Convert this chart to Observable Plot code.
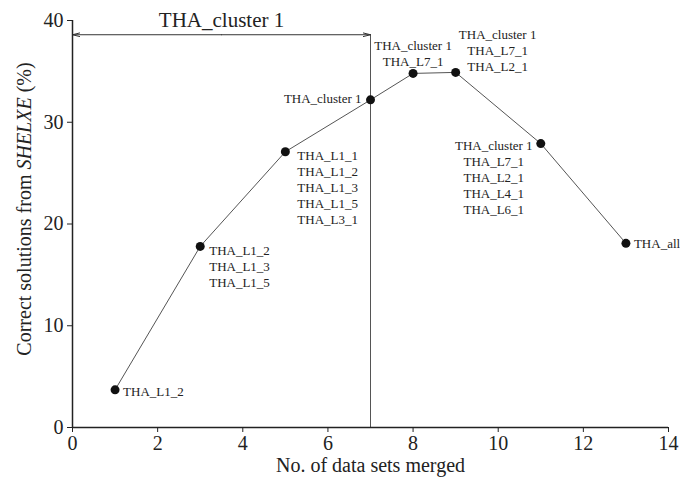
<!DOCTYPE html>
<html>
<head>
<meta charset="utf-8">
<script src="https://cdn.jsdelivr.net/npm/d3@7"></script>
<script src="https://cdn.jsdelivr.net/npm/@observablehq/plot@0.6"></script>
<style>
  body { margin: 0; background: #fff; }
</style>
</head>
<body>
<div id="chart"></div>
<script>
// Data
const nMerged = [1, 3, 5, 7, 8, 9, 11, 13];
const correctPct = [3.7, 17.8, 27.1, 32.2, 34.8, 34.9, 27.9, 18.1];
const mergedSets = [
  "THA_L1_2",
  "THA_L1_2\nTHA_L1_3\nTHA_L1_5",
  "THA_L1_1\nTHA_L1_2\nTHA_L1_3\nTHA_L1_5\nTHA_L3_1",
  "THA_cluster 1",
  "THA_cluster 1\nTHA_L7_1",
  "THA_cluster 1\nTHA_L7_1\nTHA_L2_1",
  "THA_cluster 1\nTHA_L7_1\nTHA_L2_1\nTHA_L4_1\nTHA_L6_1",
  "THA_all"
];
const clusterSpan = [0, 7];
const clusterLevel = 38.6;
const clusterLabel = "THA_cluster 1";
const xTicks = [0, 2, 4, 6, 8, 10, 12, 14];
const yTicks = [0, 10, 20, 30, 40];

const points = nMerged.map((n, i) => ({n, pct: correctPct[i], label: mergedSets[i]}));
const at = (n) => points.filter(d => d.n === n);
const mid = (clusterSpan[0] + clusterSpan[1]) / 2;
const spanArrows = clusterSpan.map(end => ({x1: mid, x2: end, y: clusterLevel}));

const labelStyle = {x: "n", y: "pct", text: "label", fontSize: 13, lineHeight: 1.23, fill: "#222"};

const chart = Plot.plot({
  width: 680,
  height: 480,
  marginLeft: 72,
  marginRight: 12,
  marginTop: 20,
  marginBottom: 53,
  style: {fontFamily: "'Liberation Serif', 'Times New Roman', serif", background: "#fff", color: "#222"},
  x: {domain: [0, 14]},
  y: {domain: [0, 40]},
  marks: [
    // cluster span: vertical rule and double arrow
    Plot.ruleX([clusterSpan[1]], {y1: 0, y2: clusterLevel, stroke: "#555", strokeWidth: 1}),
    Plot.arrow(spanArrows, {x1: "x1", x2: "x2", y1: "y", y2: "y", stroke: "#333", strokeWidth: 1,
      headLength: 11, headAngle: 28, insetEnd: 0}),
    Plot.text([{x: mid, y: clusterLevel, t: clusterLabel}],
      {x: "x", y: "y", text: "t", dy: -14, fontSize: 21, fill: "#222"}),
    // axes lines
    Plot.ruleX([0], {stroke: "#222", strokeWidth: 1.5}),
    Plot.ruleY([0], {stroke: "#222", strokeWidth: 1.5}),
    Plot.axisX(xTicks, {tickSize: 5, tickPadding: 3, fontSize: 20, label: "No. of data sets merged",
      labelAnchor: "center", labelOffset: 44, labelArrow: "none", stroke: "#222"}),
    Plot.axisY(yTicks, {tickSize: 5, tickPadding: 4, fontSize: 20, label: "Correct solutions from SHELXE (%)",
      labelAnchor: "center", labelOffset: 56, labelArrow: "none", stroke: "#222"}),
    // data line and points
    Plot.line(points, {x: "n", y: "pct", stroke: "#555", strokeWidth: 1}),
    Plot.dot(points, {x: "n", y: "pct", r: 4.5, fill: "#111"}),
    // point labels
    Plot.text(at(1), {...labelStyle, textAnchor: "start", lineAnchor: "middle", dx: 8, dy: 1}),
    Plot.text(at(3), {...labelStyle, textAnchor: "start", lineAnchor: "top", dx: 9, dy: -3}),
    Plot.text(at(5), {...labelStyle, textAnchor: "start", lineAnchor: "top", dx: 12, dy: -3}),
    Plot.text(at(7), {...labelStyle, textAnchor: "end", lineAnchor: "middle", dx: -9, dy: -2}),
    Plot.text(at(8), {...labelStyle, textAnchor: "middle", lineAnchor: "bottom", dx: 0, dy: -7}),
    Plot.text(at(9), {...labelStyle, textAnchor: "middle", lineAnchor: "bottom", dx: 42, dy: -1}),
    Plot.text(at(11), {...labelStyle, textAnchor: "middle", lineAnchor: "top", dx: -47, dy: -5}),
    Plot.text(at(13), {...labelStyle, textAnchor: "start", lineAnchor: "middle", dx: 8, dy: 0})
  ]
});

document.getElementById("chart").appendChild(chart);

// italicize SHELXE in the y-axis label and nudge it up to match the reference
const yl = chart.querySelector('g[aria-label="y-axis label"] text');
if (yl) {
  const s = d3.select(yl);
  s.text(null);
  s.append("tspan").text("Correct solutions from ");
  s.append("tspan").attr("font-style", "italic").text("SHELXE");
  s.append("tspan").text(" (%)");
  const t = yl.getAttribute("transform") || "";
  yl.setAttribute("transform", "translate(0,-15) " + t);
}
</script>
</body>
</html>
